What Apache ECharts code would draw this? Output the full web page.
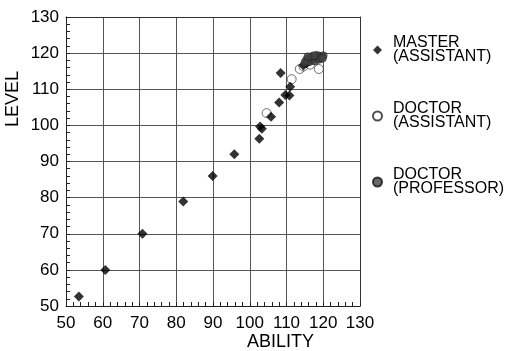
<!DOCTYPE html>
<html>
<head>
<meta charset="utf-8">
<script src="https://cdn.jsdelivr.net/npm/echarts@6/dist/echarts.min.js"></script>
<style>
  html, body { margin: 0; padding: 0; background: #fff; }
  #chart { width: 519px; height: 351px; }
</style>
</head>
<body>
<div id="chart"></div>
<script>
// [ability, level]
const masterAssistant = [
  [53.5, 52.6], [60.7, 60.0], [70.8, 70.0], [81.9, 78.9], [89.9, 86.0],
  [95.8, 92.0], [102.6, 96.3], [102.8, 99.7], [103.3, 99.1], [105.8, 102.4],
  [108.0, 106.3], [109.7, 108.4], [110.8, 108.3], [111.0, 110.7], [108.4, 114.5],
  [114.6, 116.6], [115.5, 117.2]
]
const doctorAssistant = [
  [104.6, 103.4], [111.4, 112.8], [113.6, 115.6], [114.6, 116.3], [116.4, 116.8],
  [118.8, 115.6], [115.8, 117.8], [117.2, 118.2]
]
const doctorProfessor = [
  [115.4, 118.0], [116.0, 118.6], [116.6, 118.2], [117.0, 118.9], [117.5, 118.4],
  [118.0, 119.0], [118.4, 118.6], [118.8, 119.2], [119.2, 118.8], [119.6, 119.1],
  [120.0, 119.3], [116.2, 117.6], [117.8, 117.8], [119.0, 118.3], [115.0, 117.4],
  [116.8, 119.0], [118.2, 119.4], [119.8, 118.6], [117.4, 119.3], [115.8, 119.0]
]
const seriesNames = ['MASTER (ASSISTANT)', 'DOCTOR (ASSISTANT)', 'DOCTOR (PROFESSOR)']

const font = '"Liberation Sans", Arial, sans-serif'

const mainAxis = (margin) => ({
  type: 'value',
  min: 50,
  max: 130,
  interval: 10,
  axisLine: { onZero: false, lineStyle: { color: '#222', width: 1 } },
  axisTick: { show: true, inside: true, length: 4, lineStyle: { color: '#222' } },
  minorTick: { show: true, splitNumber: 5, length: 4, lineStyle: { color: '#222' } },
  splitLine: { show: true, lineStyle: { color: '#555', width: 1 } },
  axisLabel: { color: '#000', fontSize: 17, fontFamily: font, margin: margin }
})

// second axis only to draw the small inside ticks every 2 units
const minorAxis = (position) => ({
  type: 'value',
  position: position,
  min: 50,
  max: 130,
  interval: 2,
  axisLine: { show: false, onZero: false },
  axisTick: { show: true, inside: true, length: 4, lineStyle: { color: '#222' } },
  splitLine: { show: false },
  axisLabel: { show: false }
})

// plain line closing the box on the top and right
const borderAxis = (position) => ({
  type: 'value',
  position: position,
  min: 50,
  max: 130,
  axisLine: { show: true, onZero: false, lineStyle: { color: '#333', width: 1 } },
  axisTick: { show: false },
  splitLine: { show: false },
  axisLabel: { show: false }
})

const chart = echarts.init(document.getElementById('chart'))
chart.setOption({
  animation: false,
  grid: { left: 66, right: 159, top: 17, bottom: 45 },
  xAxis: [mainAxis(9), minorAxis('bottom'), borderAxis('top')],
  yAxis: [mainAxis(7), minorAxis('left'), borderAxis('right')],
  legend: {
    orient: 'vertical',
    left: 367,
    top: 30,
    itemWidth: 9,
    itemHeight: 9,
    itemGap: 36,
    data: seriesNames,
    formatter: name => name.replace(' ', '\n'),
    textStyle: { color: '#000', fontSize: 16, fontFamily: font, lineHeight: 14, padding: [0, 0, 0, 6] }
  },
  graphic: [
    { type: 'text', left: 247, top: 333, style: { text: 'ABILITY', fontSize: 18, fontFamily: font, fill: '#000' } },
    { type: 'text', x: 4, y: 127, rotation: Math.PI / 2, style: { text: 'LEVEL', fontSize: 18, fontFamily: font, fill: '#000' } }
  ],
  series: [
    {
      name: seriesNames[0], type: 'scatter', data: masterAssistant,
      symbol: 'diamond', symbolSize: 10, z: 3,
      itemStyle: { color: '#000' }
    },
    {
      name: seriesNames[1], type: 'scatter', data: doctorAssistant,
      symbol: 'circle', symbolSize: 9, z: 2,
      itemStyle: { color: '#fff', borderColor: '#222', borderWidth: 0.8 }
    },
    {
      name: seriesNames[2], type: 'scatter', data: doctorProfessor,
      symbol: 'circle', symbolSize: 8, z: 4,
      itemStyle: { color: '#444', borderColor: '#111', borderWidth: 0.5 }
    }
  ]
})
</script>
</body>
</html>
